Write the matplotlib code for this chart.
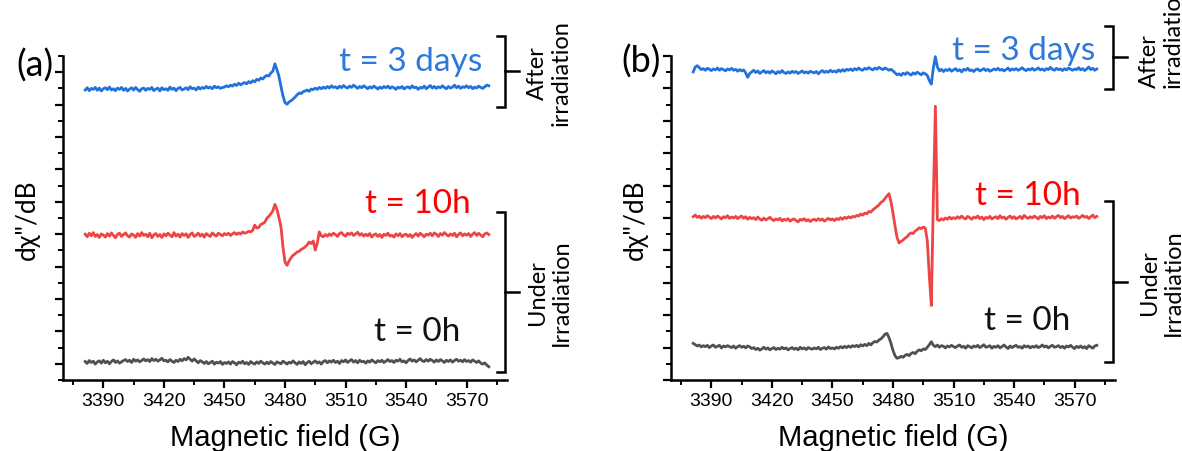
import numpy as np
import matplotlib
matplotlib.use("Agg")
import matplotlib.pyplot as plt
from matplotlib.ticker import MultipleLocator

# Campo magnetico (G), paso de 1 G
campo = np.arange(3381, 3582)

# Espectros EPR, unidades: 1/100 de division mayor del eje y
# ---------------- Panel (a) ----------------
gris_a = [2, -4, 5, -1, 3, -6, 1, 4, -3, 6,
          -2, 3, -5, 2, 7, -1, 4, -3, 1, 5,
          8, 2, 6, -1, 9, 3, 7, 1, 5, 10,
          4, 8, 2, 11, 5, 9, 3, 7, 12, 4,
          6, 1, 8, 3, -1, 6, 2, 9, 4, 11,
          7, 15, 9, 3, 10, 4, -2, 5, 1, -4,
          2, -5, -1, 3, -6, 0, -3, 2, -7, -1,
          -4, 1, -6, 2, -2, -8, 0, -3, 3, -5,
          -1, -7, 2, -3, -6, 1, -4, 3, -2, -6,
          0, -5, 2, -3, -7, 1, -2, -5, 3, -1,
          -6, 0, -3, 4, -2, -7, 1, -4, 2, -8,
          -1, 3, -5, 0, 4, -3, 1, -6, 2, 5,
          -2, 4, 0, 6, -1, 3, -4, 5, 1, 7,
          -1, 4, 8, 0, 5, -2, 6, 1, 3, -3,
          4, 0, 7, 2, -2, 5, 1, 6, -1, 3,
          8, 2, 5, -1, 6, 3, 9, 1, 4, -2,
          5, 10, 3, 7, 1, 6, 11, 4, 2, 8,
          3, 9, 5, 0, 7, 2, 8, 4, -1, 6,
          2, 7, 0, 5, 9, 3, 6, 1, 8, 2,
          5, 0, 7, 3, -1, 4, -3, -6, -2, -9,
          -14]
rojo_a = [3, -5, 6, -2, 8, -4, 2, -7, 4, 0,
          -6, 5, -3, 7, -1, -8, 3, 6, -4, 2,
          7, -2, -6, 4, 0, -7, 5, -3, 8, -1,
          3, -5, 6, -8, 1, 5, -4, 2, -7, 4,
          -2, 6, 0, -5, 8, -3, 3, -6, 5, -1,
          4, -7, 2, 7, -4, 0, 6, -3, 3, -6,
          5, 0, -4, 7, 1, -3, 6, 2, -2, 5,
          1, 6, -1, 4, 8, 2, 7, 3, 10, 6,
          8, 12, 10, 15, 31, 22, 24, 33, 36, 40,
          52, 58, 66, 75, 95, 80, 55, 26, -36, -83,
          -93, -80, -70, -62, -58, -52, -50, -44, -41, -36,
          -30, -21, -26, -18, -46, -25, 10, -2, -5, 2,
          -3, 4, -1, 6, 2, -4, 5, 8, 1, -3,
          6, 2, 7, -1, 4, 9, 0, 5, -3, 3,
          -2, 5, -6, 1, 4, -4, 2, -7, 3, -1,
          6, -3, 0, -6, 4, -2, 5, -5, 1, 3,
          -4, 2, -7, 0, 5, -3, 6, 1, -5, 3,
          0, 6, -2, 7, 3, -4, 5, 0, 8, 2,
          -3, 4, -1, 6, -5, 2, 7, -2, 4, 0,
          5, -4, 3, 8, -1, 6, 0, -5, 4, 7,
          2]
azul_a = [-3, 4, -5, 2, -1, 5, -4, 3, -6, 1,
          4, -2, 6, -3, 1, -5, 3, -1, 5, -4,
          2, -6, 0, 4, -3, 5, -2, -7, 1, 3,
          -4, 2, -1, 5, -5, 0, 3, -6, 4, -2,
          1, -4, 6, -1, 3, -5, 2, 5, -3, 0,
          4, -2, 7, 1, 3, -3, 6, 0, 5, 2,
          8, 3, 6, 1, 9, 4, 7, 2, 5, 6,
          10, 7, 12, 9, 15, 11, 18, 13, 17, 20,
          16, 23, 19, 26, 22, 30, 27, 34, 31, 38,
          42, 40, 50, 55, 78, 60, 40, 8, -21, -42,
          -47, -40, -36, -31, -25, -18, -12, -14, -8, -6,
          -3, -7, 0, -2, 3, -1, 5, 1, 6, 2,
          8, 3, 10, 5, 7, 2, 9, 4, 11, 6,
          3, 9, 5, 12, 7, 2, 8, 4, 10, 6,
          1, 7, 3, 9, 5, 0, 6, 2, 8, 4,
          9, 2, 7, 4, -1, 6, 3, 8, 0, 5,
          7, 2, 10, 4, 6, -1, 5, 3, 9, 1,
          6, 11, 3, 8, 2, 7, 4, 10, 5, 1,
          8, 3, 6, 12, 4, 9, 2, 7, 5, 10,
          4, 8, 1, 6, 3, 9, 5, 2, 7, 12,
          10]

# ---------------- Panel (b) ----------------
gris_b = [10, 6, 2, 5, -1, 3, 0, 4, -3, 2,
          5, -2, 1, 4, -4, 2, -1, 3, 0, -3,
          2, -5, 0, 3, -2, 1, -4, 2, -1, -6,
          -3, -9, -5, -11, -7, -2, -8, -4, -10, -6,
          -3, -9, -5, -8, -2, -7, -4, -10, -6, -3,
          -8, -5, -10, -2, -7, -4, -9, -3, -6, -8,
          -4, -7, -2, -9, -5, -3, -8, -1, -6, -4,
          -7, -2, -5, 0, -4, 1, -3, 2, -2, 3,
          0, 4, -1, 6, 2, 7, 3, 10, 5, 12,
          16, 14, 20, 24, 30, 38, 41, 28, 10, -12,
          -28, -36, -34, -30, -33, -27, -24, -28, -21, -18,
          -22, -14, -10, -13, -7, -9, -2, 6, 15, 4,
          0, 5, -2, 3, 1, -4, 2, -1, 4, 0,
          -3, 2, 5, -2, 1, -5, 3, 0, -4, 2,
          -1, 4, -3, 1, 6, -2, 0, 3, -5, 1,
          -2, 3, -4, 0, 5, -1, -6, 2, -3, 1,
          4, -2, 0, -5, 3, -1, 2, -4, 1, -2,
          3, -3, 0, 5, -1, 2, -4, 1, 4, -2,
          0, 3, -3, 1, -5, 2, -1, 4, -2, -6,
          1, -3, 2, -4, 0, -6, 3, -1, -5, 2,
          4]
rojo_b = [4, 9, 2, 6, -1, 5, 1, 7, 3, -2,
          5, 0, 6, 2, -3, 4, 1, 7, -1, 3,
          0, 5, -2, 3, 6, -1, 4, -4, 2, -2,
          1, -5, 3, -3, -7, 0, -6, -2, 2, -4,
          -8, -3, -6, -1, -9, -4, -7, -2, -10, -5,
          -3, -8, -12, -4, -7, -2, -9, -5, -11, -6,
          -4, -8, -2, -7, -3, -10, -5, -1, -6, -3,
          -8, -2, -5, 1, -4, 2, -1, 4, 0, 5,
          3, 8, 6, 12, 9, 15, 13, 20, 18, 25,
          30, 35, 40, 48, 52, 60, 68, 75, 50, 15,
          -25, -60, -77, -72, -68, -62, -58, -50, -46, -48,
          -40, -36, -30, -33, -28, -31, -70, -180, -270, 60,
          345, -5, -8, -2, -6, 0, -4, 3, -3, 1,
          -2, 4, -1, 6, 0, -3, 5, 1, -4, 3,
          0, 6, -2, 3, -5, 2, -1, 5, -3, 1,
          4, -2, 7, 0, 3, -4, 2, 6, -1, 4,
          -3, 1, 5, -2, 8, 2, -1, 4, 0, 6,
          2, -3, 5, 1, 7, -2, 3, 0, 6, -1,
          4, 8, 1, 5, -2, 3, 7, 0, 4, 2,
          6, -1, 3, 8, 2, 5, -2, 4, 9, 1,
          5]
azul_b = [-3, 12, 16, 10, 4, 7, 2, 8, 5, 1,
          6, 3, 9, 2, 7, 4, 0, 6, 3, 8,
          2, 5, -1, 4, 0, 3, -6, -20, -8, -3,
          2, -5, 0, -8, -3, 1, -6, -2, -7, 0,
          -4, -9, -2, -6, 1, -5, -8, -3, -7, -1,
          -5, -2, -8, -4, 0, -6, -3, -7, -1, -4,
          -6, -2, -9, -3, 1, -5, -1, -4, 2, -3,
          0, -4, 3, -2, 4, -1, 5, 2, 6, 1,
          7, 3, 9, 4, 2, 8, 5, 10, 6, 3,
          9, 5, 11, 7, 4, 9, 6, 2, 5, 0,
          -6, -12, -9, -14, -7, -11, -5, -9, -13, -6,
          -10, -4, -8, -12, -6, -9, -14, -30, -41, 10,
          44, 12, 0, 5, -2, 4, 1, 6, -1, 3,
          7, 0, 4, -3, 5, 2, 8, 1, 3, -2,
          4, 6, 0, 3, 7, 1, 5, -1, 2, 6,
          3, 8, 2, 5, 0, 4, 9, 1, 6, 3,
          7, 2, 5, 10, 4, 1, 6, 3, 8, 2,
          5, 9, 3, 6, 1, 7, 4, 11, 5, 2,
          8, 4, 6, 1, 7, 3, 9, 5, 2, 6,
          4, 10, 3, 7, 1, 6, 12, 4, 8, 2,
          6]

etiquetas = ["t = 0h", "t = 10h", "t = 3 days"]
colores_linea = ["#505050", "#EE4444", "#2272DC"]
colores_texto = ["#111111", "#FF0000", "#2E78DC"]

FUENTE_CAL = ["Lato", "DejaVu Sans"]
FUENTE_ARIAL = "Liberation Sans"


# Corchete vertical con ganchos a la izquierda y marca central a la derecha
def corchete(ax, x, y0, y1):
    ax.plot([x - 4, x, x, x - 4], [y0, y0, y1, y1], color="black", lw=1.8,
            clip_on=False, solid_joinstyle="miter")
    ax.plot([x, x + 7], [(y0 + y1) / 2] * 2, color="black", lw=1.8, clip_on=False)


def dibujar_panel(ax, espectros, desplazamientos, ylim, yticks, pos_texto,
                  letra, pos_letra, corchetes, textos_corchete):
    for esp, d, c in zip(espectros, desplazamientos, colores_linea):
        ax.plot(campo, np.array(esp) + d, color=c, lw=2.0, clip_on=False)

    ax.set_xlim(3370, 3590)
    ax.set_ylim(*ylim)
    ax.xaxis.set_minor_locator(MultipleLocator(15))
    ax.set_xticks(np.arange(3390, 3571, 30))
    ax.set_yticks(yticks)
    ax.yaxis.set_minor_locator(MultipleLocator(50))
    ax.tick_params(axis="y", which="both", labelleft=False)
    ax.tick_params(which="major", length=6, width=1.6, direction="out")
    ax.tick_params(which="minor", length=3.5, width=1.4, direction="out")
    ax.tick_params(axis="x", labelsize=14, pad=3)
    for lab in ax.get_xticklabels():
        lab.set_fontfamily(FUENTE_ARIAL)
    for lado in ["top", "right"]:
        ax.spines[lado].set_visible(False)
    for lado in ["left", "bottom"]:
        ax.spines[lado].set_linewidth(1.8)

    ax.set_xlabel("Magnetic field (G)", fontsize=21, fontfamily=FUENTE_ARIAL, labelpad=10)
    ax.text(-0.081, 0.497, 'd\u03c7"/dB', transform=ax.transAxes, rotation=90,
            fontsize=19, family=FUENTE_CAL, ha="center", va="center")

    for txt, (x, y), c in zip(etiquetas, pos_texto, colores_texto):
        ax.text(x, y, txt, color=c, fontsize=24, family=FUENTE_CAL,
                ha="right", va="baseline")

    ax.text(pos_letra[0], pos_letra[1], letra, transform=ax.transAxes, fontsize=26,
            family=FUENTE_CAL, ha="right", va="center")

    for (y0, y1) in corchetes:
        corchete(ax, 3589, y0, y1)
    for txt, (x, y), al in textos_corchete:
        ax.text(x, y, txt, rotation=90, fontsize=17, family=FUENTE_CAL,
                ha="center", va="center", multialignment=al, linespacing=1.2)


fig = plt.figure(figsize=(11.82, 4.52), dpi=100)
ax_a = fig.add_axes([0.0533, 0.1571, 0.3756, 0.7168])
ax_b = fig.add_axes([0.5677, 0.1571, 0.3756, 0.7168])

dibujar_panel(ax_a, [gris_a, rojo_a, azul_a], [5, 397, 848], (-50, 950),
              np.arange(0, 901, 100),
              [(3567, 73), (3572, 469), (3578, 907)], "(a)", (-0.022, 0.972),
              [(-25, 469), (793, 1012)],
              [("Under\nIrradiation", (3611, 222), "center"),
               ("After\nirradiation", (3611, 900), "center")])

dibujar_panel(ax_b, [gris_b, rojo_b, azul_b], [103, 500, 954], (0, 1000),
              np.arange(0, 1001, 100),
              [(3568, 158), (3573, 542), (3580, 991)], "(b)", (-0.024, 0.985),
              [(56, 551), (898, 1093)],
              [("Under\nIrradiation", (3613, 303), "center"),
               ("After\nirradiation", (3613, 1068), "left")])

fig.savefig("out.png", dpi=100)
